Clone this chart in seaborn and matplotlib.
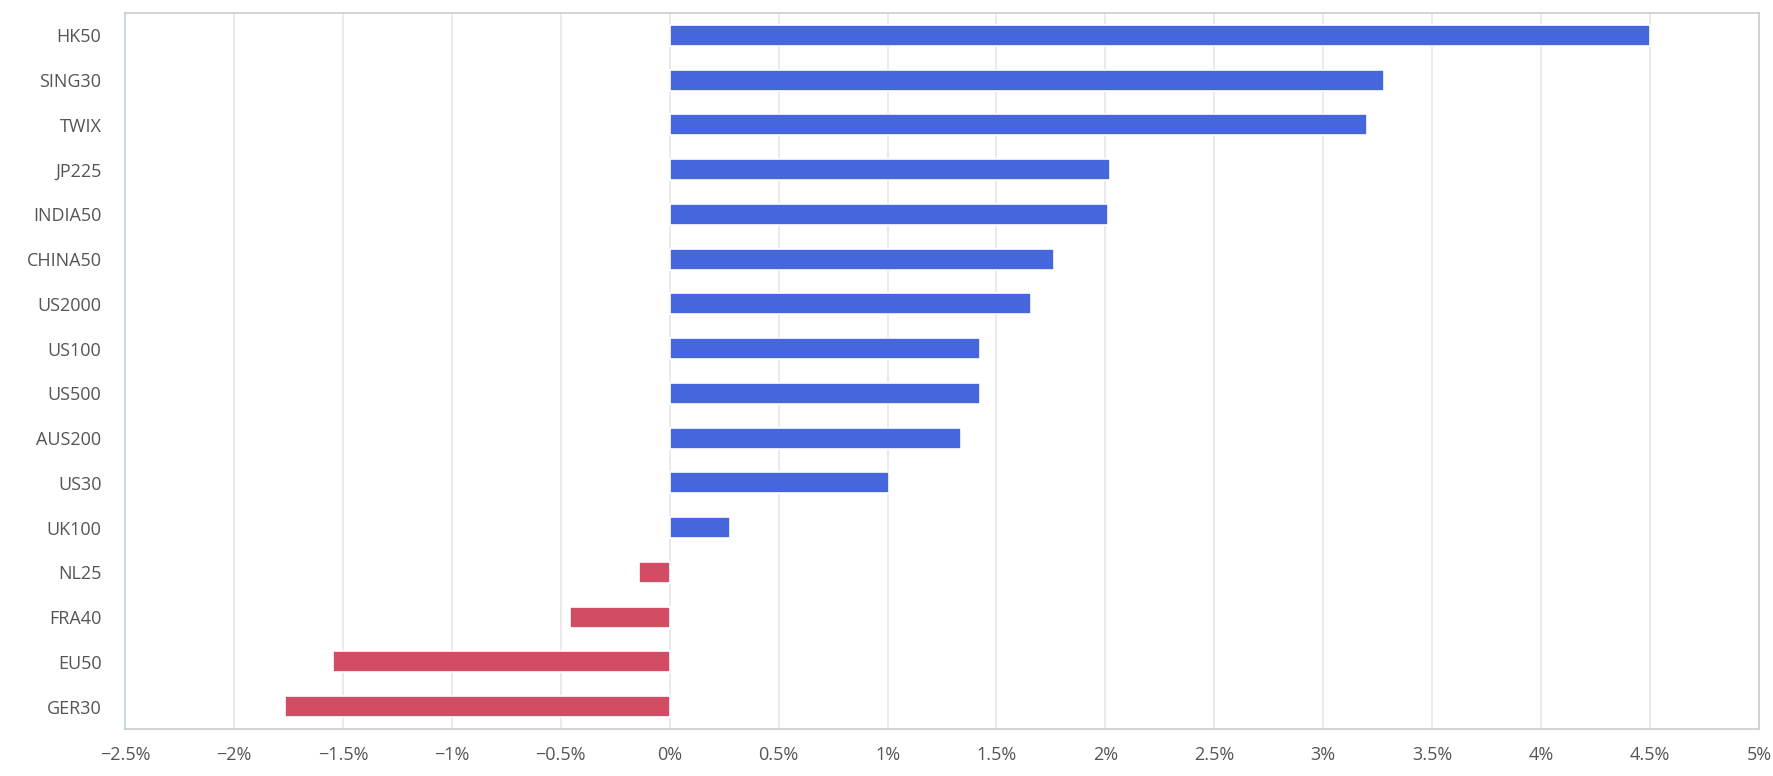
# Index performance bar chart
import pandas as pd
import numpy as np
import seaborn as sns
import matplotlib
matplotlib.use("Agg")
import matplotlib.pyplot as plt
from matplotlib.ticker import FuncFormatter, MultipleLocator

# ======================================================
# Data (percent change)
# ======================================================

indices = [
    "HK50", "SING30", "TWIX", "JP225", "INDIA50", "CHINA50", "US2000",
    "US100", "US500", "AUS200", "US30", "UK100", "NL25", "FRA40",
    "EU50", "GER30",
]
changes = [
    4.50, 3.28, 3.20, 2.02, 2.01, 1.765, 1.66,
    1.424, 1.424, 1.336, 1.009, 0.276, -0.142, -0.459,
    -1.545, -1.768,
]

df = pd.DataFrame({"index": indices, "change": changes})
df["direction"] = np.where(df["change"] >= 0, "up", "down")

# ======================================================
# Plot
# ======================================================

sns.set_theme(style="white")
plt.rcParams["font.family"] = ["Open Sans", "DejaVu Sans"]

fig = plt.figure(figsize=(17.74, 7.76), dpi=100)
ax = fig.add_axes([0.0705, 0.0606, 0.921, 0.9227])

sns.barplot(
    data=df,
    x="change",
    y="index",
    hue="direction",
    order=indices,
    palette={"up": "#4567DB", "down": "#D24C63"},
    saturation=1,
    dodge=False,
    width=0.47,
    legend=False,
    ax=ax,
    edgecolor="white",
    linewidth=1.2,
    zorder=3,
)

ax.set_xlim(-2.5, 5)
ax.xaxis.set_major_locator(MultipleLocator(0.5))
ax.xaxis.set_major_formatter(
    FuncFormatter(lambda v, _: f"{v:g}%".replace("-", "\u2212"))
)

ax.grid(axis="x", color="#e6e6e6", linewidth=1.2, zorder=0)
ax.set_axisbelow(True)

for side in ["top", "right", "bottom"]:
    ax.spines[side].set_color("#cccccc")
    ax.spines[side].set_linewidth(1.2)
ax.spines["left"].set_color("#ccd6eb")
ax.spines["left"].set_linewidth(1.5)

ax.tick_params(axis="y", length=0, pad=17, labelsize=13, labelcolor="#555555")
ax.tick_params(axis="x", length=0, pad=12, labelsize=13, labelcolor="#555555")

ax.set_xlabel("")
ax.set_ylabel("")

plt.savefig("out.png", dpi=100)
